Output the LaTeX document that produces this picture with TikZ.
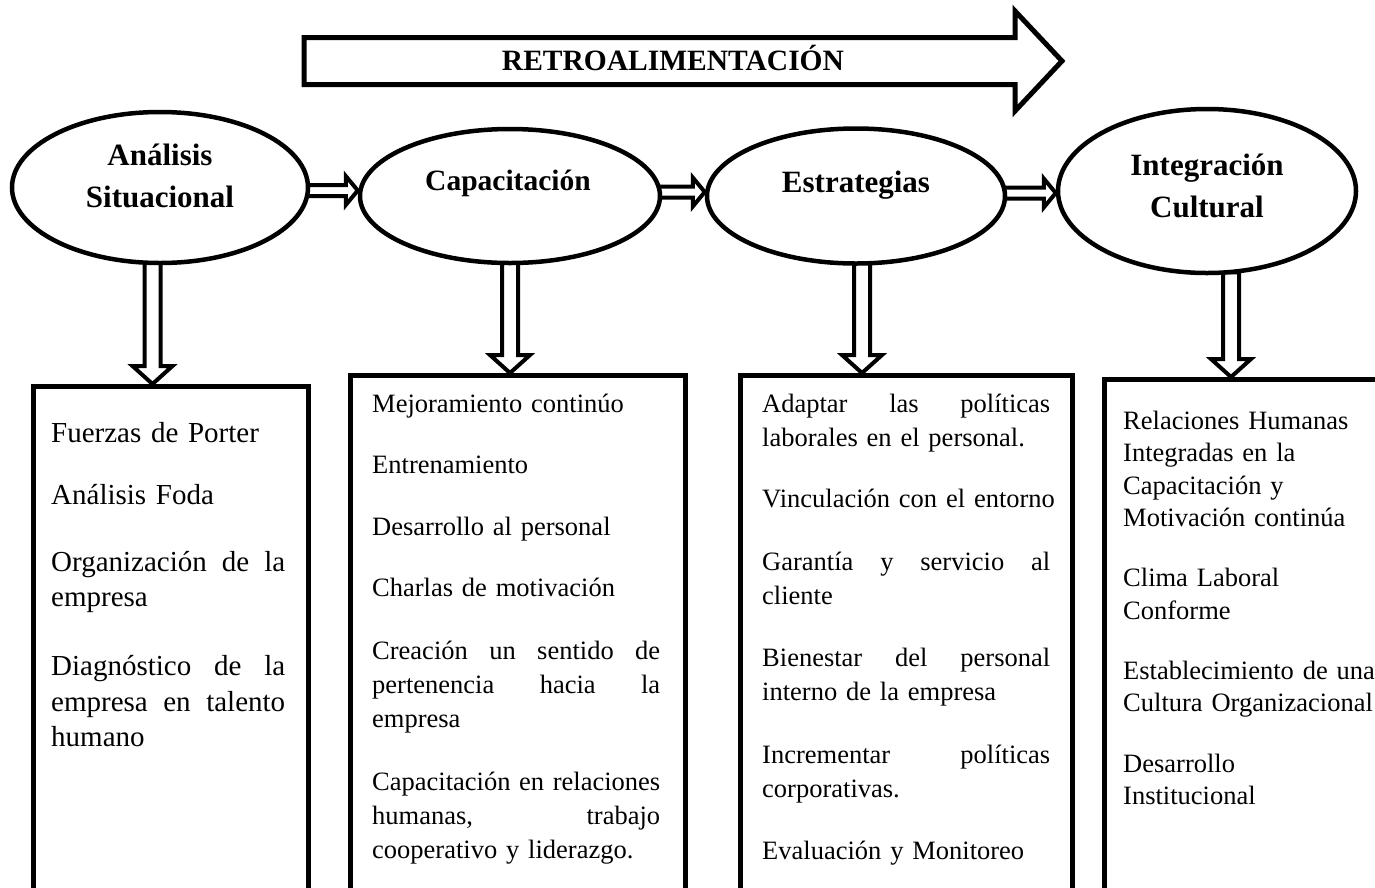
\documentclass[tikz,border=0pt]{standalone}
\usepackage{fontspec}
\setmainfont{Liberation Serif}
\usetikzlibrary{shapes.geometric,calc}
\pgfdeclarelayer{background}
\pgfsetlayers{background,main}

\tikzset{
  ell/.style={ellipse, draw, line width=4.5pt, fill=white, inner sep=0pt},
  etext/.style={anchor=north, inner sep=0pt, text width=230pt, align=center, font=\bfseries\fontsize{31}{42}\selectfont},
  box/.style={draw, line width=4.5pt, anchor=north west, inner sep=0pt, minimum height=600pt},
  btext/.style={anchor=north west, inner sep=0pt, align=left},
  blk/.style={draw, line width=4pt, fill=white, line join=miter},
}

\newcommand{\jline}[2]{\leavevmode\hbox to #1pt{#2}}
\newcommand{\hblockarrow}[2]{\draw[blk] let \p1=(#1), \p2=(#2) in
  (\x1,\y1+5.5pt) -- (\x2-12pt,\y1+5.5pt) -- (\x2-12pt,\y1+14.5pt) -- (\x2,\y1)
  -- (\x2-12pt,\y1-14.5pt) -- (\x2-12pt,\y1-5.5pt) -- (\x1,\y1-5.5pt) -- cycle;}
\newcommand{\vblockarrow}[2]{\draw[blk] let \p1=(#1), \p2=(#2) in
  (\x1-8pt,\y1) -- (\x1-8pt,\y2+18pt) -- (\x1-20pt,\y2+18pt) -- (\x1,\y2)
  -- (\x1+20pt,\y2+18pt) -- (\x1+8pt,\y2+18pt) -- (\x1+8pt,\y1) -- cycle;}

\begin{document}
\begin{tikzpicture}[x=1pt,y=-1pt]
\useasboundingbox (0,0) rectangle (1375,887);

% top feedback arrow
\draw[line width=5pt, fill=white, line join=miter]
  (304,37.5) -- (1015,37.5) -- (1015,11) -- (1062,61) -- (1015,111) -- (1015,84.5) -- (304,84.5) -- cycle;
\node[anchor=base, inner sep=0pt, font=\bfseries\fontsize{29.5}{34}\selectfont] (retro) at (673,70) {RETROALIMENTACIÓN};

% ellipses
\node[ell, minimum width=296pt, minimum height=151pt] (e1) at (160,187.5) {};
\node[ell, minimum width=300pt, minimum height=134pt] (e2) at (510,196) {};
\node[ell, minimum width=298pt, minimum height=135pt] (e3) at (856,196) {};
\node[ell, minimum width=298pt, minimum height=164pt] (e4) at (1207,191) {};

\node[etext] (t1) at (160,135.5) {\rule{0pt}{30pt}Análisis\\Situacional};
\node[etext, font=\bfseries\fontsize{29.5}{42}\selectfont] (t2) at (508,160) {\rule{0pt}{30pt}Capacitación};
\node[etext] (t3) at (856,162.5) {\rule{0pt}{30pt}Estrategias};
\node[etext] (t4) at (1207,145.5) {\rule{0pt}{30pt}Integración\\Cultural};

% boxes
\node[box, minimum width=275pt] (b1) at (31,384) {};
\node[box, minimum width=335pt] (b2) at (348,373) {};
\node[box, minimum width=332pt] (b3) at (738,373) {};
\node[box, minimum width=400pt] (b4) at (1102,377) {};

\node[btext, text width=240pt, font=\fontsize{29}{35.5}\selectfont] (x1) at (51,417)
 {\rule{0pt}{25pt}Fuerzas de Porter\\[26.5pt]
  Análisis Foda\\[31.5pt]
  \jline{234}{Organización\hfill de\hfill la}\\
  empresa\\[33.5pt]
  \jline{234}{Diagnóstico\hfill de\hfill la}\\
  \jline{234}{empresa\hfill en\hfill talento}\\
  humano};

\node[btext, text width=300pt, font=\fontsize{26.5}{34}\selectfont] (x2) at (372,388)
 {\rule{0pt}{24pt}Mejoramiento continúo\\[27pt]
  Entrenamiento\\[28pt]
  Desarrollo al personal\\[27pt]
  Charlas de motivación\\[29pt]
  \jline{288}{Creación\hfill un\hfill sentido\hfill de}\\
  \jline{288}{pertenencia\hfill hacia\hfill la}\\
  empresa\\[29pt]
  \jline{288}{Capacitación\hfill en\hfill relaciones}\\
  \jline{288}{humanas,\hfill trabajo}\\
  cooperativo y liderazgo.};

\node[btext, text width=300pt, font=\fontsize{26.5}{34}\selectfont] (x3) at (762,388)
 {\rule{0pt}{24pt}\jline{288}{Adaptar\hfill las\hfill políticas}\\
  laborales en el personal.\\[27pt]
  Vinculación con el entorno\\[29pt]
  \jline{288}{Garantía\hfill y\hfill servicio\hfill al}\\
  cliente\\[28pt]
  \jline{288}{Bienestar\hfill del\hfill personal}\\
  interno de la empresa\\[29pt]
  \jline{288}{Incrementar\hfill políticas}\\
  corporativas.\\[28pt]
  Evaluación y Monitoreo};

\node[btext, text width=270pt, font=\fontsize{26.5}{32.5}\selectfont] (x4) at (1123,405)
 {\rule{0pt}{24pt}Relaciones Humanas\\
  Integradas en la\\
  Capacitación y\\
  Motivación continúa\\[27.5pt]
  Clima Laboral\\
  Conforme\\[27.5pt]
  Establecimiento de una\\
  Cultura Organizacional\\[28pt]
  Desarrollo\\
  Institucional};

% connectors
\begin{pgfonlayer}{background}
\hblockarrow{$(e1.east)+(-4,3)$}{e2.west}
\hblockarrow{$(e2.east)+(-4,-4)$}{e3.west}
\hblockarrow{$(e3.east)+(-4,-3)$}{e4.west}
\vblockarrow{$(e1.south)+(-7.5,-3)$}{b1.north}
\vblockarrow{$(e2.south)+(0,-3)$}{b2.north}
\vblockarrow{$(e3.south)+(6,-3)$}{b3.north}
\vblockarrow{$(e4.south)+(24,-3)$}{b4.north}
\end{pgfonlayer}
\end{tikzpicture}
\end{document}
